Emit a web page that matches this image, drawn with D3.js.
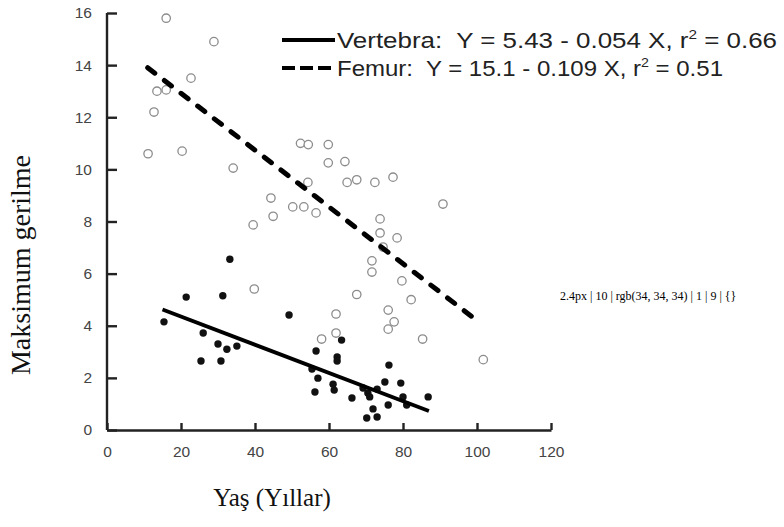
<!DOCTYPE html>
<html>
<head>
<meta charset="utf-8">
<script src="https://cdn.jsdelivr.net/npm/d3@7/dist/d3.min.js"></script>
<style>
  body { margin: 0; background: #fff; }
  svg text { white-space: pre; }
</style>
</head>
<body>
<svg id="chart" width="784" height="527"></svg>
<script>
// Axis ticks
const xTicks = [0, 20, 40, 60, 80, 100, 120];
const yTicks = [0, 2, 4, 6, 8, 10, 12, 14, 16];

// Femur specimens: age (years) and maximum strain
const femurAge = [16, 28.9, 22.7, 13.5, 16, 12.7, 11.1, 20.3, 34.1, 52.3, 54.4, 59.8, 59.8, 64.3,
  54.3, 64.9, 67.5, 72.4, 77.3, 44.3, 44.9, 39.5, 50.2, 53.2, 56.5, 73.8, 73.8, 78.4, 74.6,
  71.6, 71.6, 79.7, 39.8, 67.5, 82.2, 90.8, 85.3, 101.7, 61.9, 76, 77.6, 76, 58, 61.9];
const femurStrain = [15.8, 14.9, 13.5, 13.0, 13.05, 12.2, 10.6, 10.7, 10.05, 11.0, 10.95, 10.95, 10.25, 10.3,
  9.5, 9.5, 9.6, 9.5, 9.7, 8.9, 8.2, 7.87, 8.56, 8.56, 8.33, 8.1, 7.56, 7.37, 7.02,
  6.49, 6.06, 5.72, 5.41, 5.2, 5.0, 8.67, 3.49, 2.7, 4.45, 4.6, 4.15, 3.87, 3.49, 3.72];

// Vertebra specimens: age (years) and maximum strain
const vertebraAge = [33.2, 21.4, 31.3, 15.4, 26, 30, 32.4, 35.1, 25.4, 30.8, 49.2, 63.4, 56.5, 62.2,
  62.2, 55.4, 76.2, 57, 56.2, 61.1, 61.4, 66.2, 69.2, 70.5, 71, 73, 75.1, 79.4, 76, 71.9,
  70.2, 73, 80, 86.8, 81];
const vertebraStrain = [6.55, 5.1, 5.15, 4.15, 3.72, 3.3, 3.1, 3.22, 2.65, 2.65, 4.41, 3.45, 3.03, 2.8,
  2.65, 2.34, 2.49, 1.99, 1.46, 1.76, 1.53, 1.23, 1.61, 1.42, 1.27, 1.57, 1.84, 1.8, 0.96, 0.81,
  0.46, 0.5, 1.27, 1.27, 0.96];

// Regression fits (vertebra, femur)
const fitNames = ["Vertebra", "Femur"];
const fitIntercepts = [5.43, 15.1];
const fitSlopes = [-0.054, -0.109];
const fitR2 = [0.66, 0.51];
const fitAgeFrom = [15, 11];
const fitAgeTo = [87, 100];

const svg = d3.select("#chart");
const x = d3.scaleLinear().domain([0, 120]).range([107, 551]);
const y = d3.scaleLinear().domain([0, 16]).range([430, 13]);

// Femur points (open)
svg.append("g").attr("class", "femur-points").selectAll("circle")
  .data(femurAge.map((a, i) => [a, femurStrain[i]]))
  .join("circle")
  .attr("cx", d => x(d[0]))
  .attr("cy", d => y(d[1]))
  .attr("r", 4.2)
  .attr("fill", "#fff")
  .attr("stroke", "#8c8c8c")
  .attr("stroke-width", 1.3);

// Vertebra points (filled)
svg.append("g").attr("class", "vertebra-points").selectAll("circle")
  .data(vertebraAge.map((a, i) => [a, vertebraStrain[i]]))
  .join("circle")
  .attr("cx", d => x(d[0]))
  .attr("cy", d => y(d[1]))
  .attr("r", 3.7)
  .attr("fill", "#111");

// Regression lines
const fitLine = d3.line().x(d => x(d[0])).y(d => y(d[1]));
const fitDashes = [null, "9,12"];
const fitWidths = [3.8, 5];
fitNames.forEach((name, i) => {
  const pts = [fitAgeFrom[i], fitAgeTo[i]].map(a => [a, fitIntercepts[i] + fitSlopes[i] * a]);
  svg.append("path")
    .attr("d", fitLine(pts))
    .attr("fill", "none")
    .attr("stroke", "#000")
    .attr("stroke-width", fitWidths[i])
    .attr("stroke-linecap", i === 1 ? "round" : "butt")
    .attr("stroke-dasharray", fitDashes[i]);
});

// Legend
const legendY = [40, 68];
const legendDash = [null, "13,5"];
const legendWidth = [440, 386];
fitNames.forEach((name, i) => {
  svg.append("line")
    .attr("x1", 282).attr("x2", 335)
    .attr("y1", legendY[i]).attr("y2", legendY[i])
    .attr("stroke", "#000")
    .attr("stroke-width", 4)
    .attr("stroke-dasharray", legendDash[i]);
  const t = svg.append("text")
    .attr("x", 337)
    .attr("y", legendY[i] + 8)
    .attr("fill", "#222")
    .attr("textLength", legendWidth[i])
    .attr("lengthAdjust", "spacingAndGlyphs")
    .style("font-family", "'Liberation Sans', Arial, sans-serif")
    .style("font-size", "22px");
  const slope = Math.abs(fitSlopes[i]);
  t.append("tspan").text(`${name}:  Y = ${fitIntercepts[i]} - ${slope} X, r`);
  t.append("tspan").attr("dy", -9).style("font-size", "13px").text("2");
  t.append("tspan").attr("dy", 9).text(` = ${fitR2[i].toFixed(2)}`);
});

// Axis titles
svg.append("text")
  .attr("transform", "translate(30,265) rotate(-90)")
  .attr("text-anchor", "middle")
  .attr("fill", "#111")
  .style("font-family", "'Liberation Serif', 'Times New Roman', serif")
  .style("font-size", "28px")
  .text("Maksimum gerilme");
svg.append("text")
  .attr("x", 272)
  .attr("y", 506)
  .attr("text-anchor", "middle")
  .attr("fill", "#111")
  .style("font-family", "'Liberation Serif', 'Times New Roman', serif")
  .style("font-size", "25px")
  .text("Yaş (Yıllar)");

// Axes with inward ticks, drawn on top
const yAxis = svg.append("g")
  .attr("transform", `translate(${x(0)},0)`)
  .call(d3.axisLeft(y).tickValues(yTicks).tickSizeInner(-10).tickSizeOuter(0).tickPadding(15));
const xAxis = svg.append("g")
  .attr("transform", `translate(0,${y(0)})`)
  .call(d3.axisBottom(x).tickValues(xTicks).tickSizeInner(-7).tickSizeOuter(0).tickPadding(16));

yAxis.select(".domain").attr("d", `M0,${y(16)}V${y(0)}`);
[xAxis, yAxis].forEach(g => {
  g.selectAll(".domain, .tick line")
    .attr("stroke", "#222")
    .attr("stroke-width", 2.4);
  g.selectAll(".tick text")
    .attr("fill", "#444")
    .style("font-family", "'Liberation Sans', Arial, sans-serif")
    .style("font-size", "15.5px");
});

const ln = yAxis.select(".tick line").node();
const info = [getComputedStyle(ln).strokeWidth, ln.getAttribute("x2"), getComputedStyle(ln).stroke,
  getComputedStyle(ln).opacity, yAxis.selectAll(".tick line").size(), JSON.stringify(ln.getBBox())].join(" | ");
svg.append("text").attr("x", 560).attr("y", 300).style("font-size", "12px").text(info);
</script>
</body>
</html>
